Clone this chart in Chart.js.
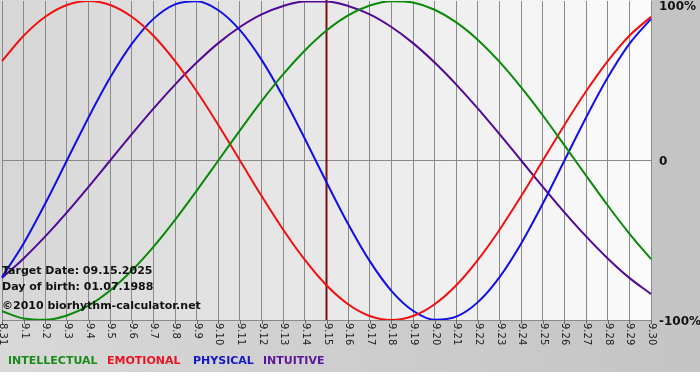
<!DOCTYPE html>
<html>
<head>
<meta charset="utf-8">
<script src="https://cdn.jsdelivr.net/npm/chart.js@4"></script>
<style>
html,body{margin:0;padding:0;background:#fff;}
canvas{display:block;}
</style>
</head>
<body>
<canvas id="c" width="700" height="380"></canvas>
<script>
const labels = ["8.31","9.1","9.2","9.3","9.4","9.5","9.6","9.7","9.8","9.9","9.10","9.11","9.12","9.13","9.14","9.15","9.16","9.17","9.18","9.19","9.20","9.21","9.22","9.23","9.24","9.25","9.26","9.27","9.28","9.29","9.30"];
const physical = [-0.731,-0.520,-0.270,0,0.270,0.520,0.731,0.888,0.979,0.998,0.942,0.817,0.631,0.398,0.136,-0.136,-0.398,-0.631,-0.817,-0.942,-0.998,-0.979,-0.888,-0.731,-0.520,-0.270,0,0.270,0.520,0.731,0.888];
const emotional = [0.623,0.782,0.901,0.975,1.000,0.975,0.901,0.782,0.623,0.434,0.223,0,-0.223,-0.434,-0.623,-0.782,-0.901,-0.975,-1.000,-0.975,-0.901,-0.782,-0.623,-0.434,-0.223,0,0.223,0.434,0.623,0.782,0.901];
const intellectual = [-0.945,-0.990,-0.999,-0.972,-0.910,-0.815,-0.690,-0.541,-0.372,-0.189,0,0.189,0.372,0.541,0.690,0.815,0.910,0.972,0.999,0.990,0.945,0.866,0.756,0.618,0.458,0.282,0.095,-0.095,-0.282,-0.458,-0.618];
const intuitive = [-0.736,-0.614,-0.476,-0.325,-0.165,0,0.165,0.325,0.476,0.614,0.736,0.837,0.916,0.969,0.997,0.997,0.969,0.916,0.837,0.736,0.614,0.476,0.325,0.165,0,-0.165,-0.325,-0.476,-0.614,-0.736,-0.837];
const yTickValues = [1, 0, -1];
const yTickLabels = ["100%", "0", "-100%"];
const targetLabel = "9.15";
const infoLines = ["Target Date: 09.15.2025", "Day of birth: 01.07.1988", "\u00A92010 biorhythm-calculator.net"];
const legendNames = ["INTELLECTUAL", "EMOTIONAL", "PHYSICAL", "INTUITIVE"];

const colors = {
  intellectual: "#0a8a0a",
  emotional: "#f01010",
  physical: "#1010e6",
  intuitive: "#520a96"
};
const legendColors = ["#1a8a1a", "#ee1122", "#1515cc", "#5a159a"];
const legendX = [8, 107, 193, 263];

const decor = {
  id: "decor",
  beforeDraw(chart) {
    const ctx = chart.ctx, a = chart.chartArea;
    ctx.save();
    ctx.fillStyle = "#c4c4c4";
    ctx.fillRect(0, 0, 700, 372);
    const gb = ctx.createLinearGradient(0, 0, 700, 0);
    gb.addColorStop(0, "#d8d8d8");
    gb.addColorStop(1, "#c4c4c4");
    ctx.fillStyle = gb;
    ctx.fillRect(0, a.bottom, 700, 372 - a.bottom);
    ctx.fillStyle = "#ffffff";
    ctx.fillRect(0, 372, 700, 8);
    const g = ctx.createLinearGradient(0, 0, a.right, 0);
    g.addColorStop(0, "#d6d6d6");
    g.addColorStop(1, "#fbfbfb");
    ctx.fillStyle = g;
    ctx.fillRect(0, 0, a.right, a.bottom);
    ctx.restore();
  },
  beforeDatasetsDraw(chart) {
    const ctx = chart.ctx, a = chart.chartArea, xs = chart.scales.x;
    const tx = xs.getPixelForValue(labels.indexOf(targetLabel));
    ctx.save();
    ctx.strokeStyle = "#7a1010";
    ctx.lineWidth = 2;
    ctx.beginPath();
    ctx.moveTo(tx, 0);
    ctx.lineTo(tx, a.bottom);
    ctx.stroke();
    ctx.restore();
  },
  afterDraw(chart) {
    const ctx = chart.ctx, a = chart.chartArea, xs = chart.scales.x, ys = chart.scales.y;
    ctx.save();
    ctx.strokeStyle = "#666";
    ctx.lineWidth = 1;
    ctx.fillStyle = "#222";
    ctx.font = "10px 'DejaVu Sans'";
    ctx.textAlign = "left";
    ctx.textBaseline = "middle";
    labels.forEach((l, i) => {
      const x = Math.round(xs.getPixelForValue(i)) + 0.5;
      ctx.beginPath();
      ctx.moveTo(x, a.bottom);
      ctx.lineTo(x, a.bottom + 4);
      ctx.stroke();
      ctx.save();
      ctx.translate(x, a.bottom + 3);
      ctx.rotate(Math.PI / 2);
      ctx.fillText(l, 0, 0);
      ctx.restore();
    });
    ctx.font = "bold 12px 'DejaVu Sans'";
    ctx.fillStyle = "#111";
    yTickValues.forEach((v, i) => {
      let y = ys.getPixelForValue(v);
      if (v === 1) y = 7;
      if (v === -1) y = a.bottom + 2;
      if (v === 0) y = y + 1;
      ctx.fillText(yTickLabels[i], a.right + 8, y);
    });
    ctx.font = "bold 11px 'DejaVu Sans'";
    ctx.fillStyle = "#111";
    const infoY = [271.5, 287.5, 306.5];
    infoLines.forEach((t, i) => ctx.fillText(t, 2, infoY[i]));
    legendNames.forEach((t, i) => {
      ctx.fillStyle = legendColors[i];
      ctx.fillText(t, legendX[i], 361.5);
    });
    ctx.restore();
  }
};

new Chart(document.getElementById("c"), {
  type: "line",
  data: {
    labels: labels,
    datasets: [
      { label: "INTELLECTUAL", data: intellectual, borderColor: colors.intellectual },
      { label: "EMOTIONAL", data: emotional, borderColor: colors.emotional },
      { label: "PHYSICAL", data: physical, borderColor: colors.physical },
      { label: "INTUITIVE", data: intuitive, borderColor: colors.intuitive }
    ].map(d => Object.assign(d, { borderWidth: 2, pointRadius: 0, cubicInterpolationMode: "monotone", fill: false }))
  },
  options: {
    responsive: false,
    animation: false,
    layout: { padding: { left: 2, right: 49, top: 1, bottom: 60 } },
    plugins: { legend: { display: false }, tooltip: { enabled: false } },
    scales: {
      x: {
        offset: false,
        ticks: { display: false },
        grid: { color: "#8a8a8a", lineWidth: 1, drawTicks: false },
        border: { display: false }
      },
      y: {
        min: -1, max: 1,
        ticks: { display: false, stepSize: 1 },
        grid: { drawTicks: false, color: c => (c.tick && c.tick.value === 1) ? "rgba(0,0,0,0)" : "#8a8a8a" },
        border: { display: false }
      }
    }
  },
  plugins: [decor]
});
</script>
</body>
</html>
